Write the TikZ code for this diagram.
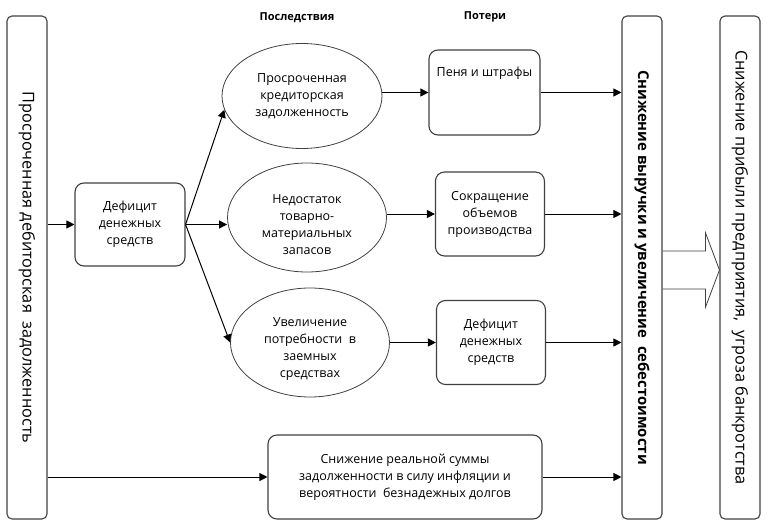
\documentclass[tikz,border=0pt]{standalone}
\usepackage{fontspec}
\setmainfont{Open Sans}
\usetikzlibrary{shapes.geometric,arrows.meta,positioning,calc}
\definecolor{ink}{HTML}{000000}
\definecolor{edge}{HTML}{404040}
\tikzset{
  tall/.style={rectangle, rounded corners=5pt, draw=edge, line width=1.1pt,
              minimum width=40pt, minimum height=503pt, inner sep=0pt,
              font=\fontsize{16.3}{18}\selectfont},
  cause/.style={rectangle, rounded corners=9pt, draw=edge, line width=1.1pt,
              align=center, inner sep=0pt, font=\fontsize{12.5}{17}\selectfont},
  effect/.style={ellipse, draw=edge, line width=0.8pt, minimum width=160pt,
              minimum height=108pt, align=center, inner sep=0pt,
              font=\fontsize{12.5}{17}\selectfont},
  lbl/.style={font=\fontsize{12.5}{17}\selectfont, inner sep=0pt, align=center},
  head/.style={font=\fontsize{11}{13}\selectfont\bfseries},
  fl/.style={-{Triangle[length=8pt,width=8pt]}, draw=ink, line width=1pt},
  hollow/.style={draw=edge, line width=0.8pt},
}

\begin{document}
\begin{tikzpicture}[x=1pt, y=-1pt]
\useasboundingbox (0,0) rectangle (770,524);

% --- source ---------------------------------------------------------------
\node[tall] (deb) at (27,267.5)
  {\rotatebox{-90}{Просроченная дебиторская\ \ задолженность}};
\node[cause, minimum width=110pt, minimum height=83pt] (def1) at (130,224.5)
  {Дефицит\\денежных\\средств};
\draw[fl] (deb.east |- def1) -- (def1);

% --- consequences ---------------------------------------------------------
\node[head] (cons) at (297,18) {Последствия};
\node[effect, minimum height=105pt] (e1) at (302,96)
  {Просроченная\\кредиторская\\задолженность};
\node[effect, minimum width=159pt, minimum height=109pt,
      label={[lbl, yshift=-7pt]center:{Недостаток\\товарно-\\материальных\\запасов}}] (e2)
  at (307,217.5) {};
\node[effect, minimum width=159pt, minimum height=109pt,
      label={[lbl, yshift=-7pt]center:{Увеличение\\потребности\ \ в\\заемных\\средствах}}] (e3)
  at (310,342.5) {};
\draw[fl] (def1.east) -- (e1.190);
\draw[fl] (def1.east) -- (def1.east -| e2.west);
\draw[fl] (def1.east) -- (e3.west);

% --- losses ---------------------------------------------------------------
\node[head] (loss) at (485,17) {Потери};
\node[cause, minimum width=111pt, minimum height=85pt, right=46pt of e1, yshift=3.5pt,
      label={[lbl, anchor=north, yshift=-17pt]north:Пеня и штрафы}] (pen) {};
\node[cause, minimum width=109pt, minimum height=84pt, right=48pt of e2, yshift=3.5pt] (sokr)
  {Сокращение\\объемов\\производства};
\node[cause, minimum width=109pt, minimum height=84pt, right=46pt of e3] (def2)
  {Дефицит\\денежных\\средств};
\draw[fl] (pen.west -| e1.east) -- (pen.west);
\draw[fl] (sokr.west -| e2.east) -- (sokr.west);
\draw[fl] (e3) -- (def2);

% --- direct effect --------------------------------------------------------
\node[cause, minimum width=274pt, minimum height=84pt] (real) at (405,477)
  {Снижение реальной суммы\\задолженности в силу инфляции и\\вероятности\ \ безнадежных долгов};
\draw[fl] (deb.east |- real) -- (real);

% --- outcome --------------------------------------------------------------
\node[tall] (rev) at (642,267.5)
  {\rotatebox{-90}{\fontsize{14.9}{18}\selectfont\bfseries Снижение выручки и увеличение\ \ себестоимости}};
\node[tall] (prof) at (740,267.5)
  {\rotatebox{-90}{Снижение прибыли предприятия,\ \ угроза банкротства}};
\draw[fl] (pen.east) -- (pen.east -| rev.west);
\draw[fl] (sokr.east) -- (sokr.east -| rev.west);
\draw[fl] (def2.east) -- (def2.east -| rev.west);
\draw[fl] (real.east) -- (real.east -| rev.west);

\coordinate (mid) at ($(rev.east)+(0,2.5)$);
\coordinate (tip) at (mid -| prof.west);
\draw[hollow] ($(mid)+(0,-19)$) -- ++(43,0) -- ++(0,-18) -- (tip)
  -- ($(mid)+(43,37)$) -- ++(0,-18) -- ($(mid)+(0,19)$);
\end{tikzpicture}
\end{document}
